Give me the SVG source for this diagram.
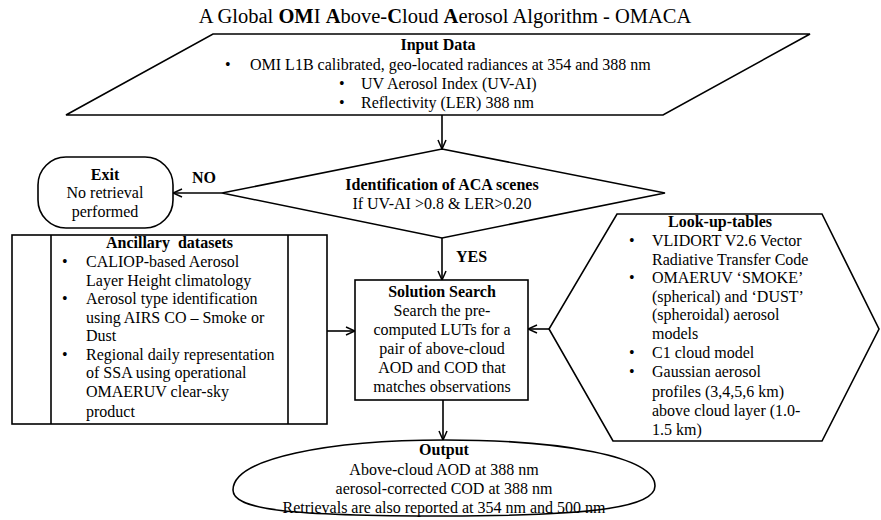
<svg xmlns="http://www.w3.org/2000/svg" width="881" height="520" viewBox="0 0 881 520">
<defs>
<style>
text{font-family:"Liberation Serif","Times New Roman",serif;font-size:16px;fill:#000}
.t{font-size:20.5px}
.b{font-weight:bold}
.c{text-anchor:middle}
.shape{fill:#fff;stroke:#000;stroke-width:1.6}
.conn{fill:none;stroke:#000;stroke-width:1.6;marker-end:url(#arr)}
</style>
<marker id="arr" viewBox="0 0 10 10" refX="10" refY="5" markerWidth="10" markerHeight="10" markerUnits="userSpaceOnUse" orient="auto">
<path d="M1,1 L10,5 L1,9" fill="none" stroke="#000" stroke-width="1.5"/>
</marker>
</defs>
<rect width="881" height="520" fill="#fff"/>
<text class="t c" x="445" y="23">A Global <tspan class="b">OM</tspan>I <tspan class="b">A</tspan>bove-<tspan class="b">C</tspan>loud <tspan class="b">A</tspan>erosol Algorithm - OMACA</text>

<g id="connectors">
<line class="conn" x1="442" y1="115" x2="442" y2="149"/>
<line class="conn" x1="222" y1="193" x2="173" y2="193"/>
<line class="conn" x1="442" y1="238" x2="442" y2="280"/>
<line class="conn" x1="327" y1="331" x2="355" y2="331"/>
<line class="conn" x1="549" y1="329" x2="528" y2="329"/>
<line class="conn" x1="443" y1="400" x2="443" y2="440"/>
<text class="b" x="192" y="183">NO</text>
<text class="b" x="456" y="262">YES</text>
</g>

<g id="input">
<polygon class="shape" points="213,34 810,34 663,115 66,115"/>
<text class="b c" x="438" y="50">Input Data</text>
<text x="225" y="70">•</text><text x="250" y="70">OMI L1B calibrated, geo-located radiances at 354 and 388 nm</text>
<text x="339" y="89">•</text><text x="361" y="89">UV Aerosol Index (UV-AI)</text>
<text x="339" y="108">•</text><text x="361" y="108">Reflectivity (LER) 388 nm</text>
</g>

<g id="decision">
<polygon class="shape" points="442,149 665,193 442,238 222,193"/>
<text class="b c" x="442" y="190">Identification of ACA scenes</text>
<text class="c" x="442" y="209">If UV-AI &gt;0.8 &amp; LER&gt;0.20</text>
</g>

<g id="exit">
<rect class="shape" x="38" y="157" width="135" height="71" rx="28" ry="28"/>
<text class="b c" x="105" y="180">Exit</text>
<text class="c" x="105" y="198">No retrieval</text>
<text class="c" x="105" y="217">performed</text>
</g>

<g id="ancillary">
<rect class="shape" x="12" y="235" width="315" height="189"/>
<line x1="51" y1="235" x2="51" y2="424" stroke="#000" stroke-width="1.6"/>
<line x1="288" y1="235" x2="288" y2="424" stroke="#000" stroke-width="1.6"/>
<text class="b c" x="169.5" y="248" xml:space="preserve">Ancillary  datasets</text>
<text x="62" y="267">•</text><text x="86" y="267">CALIOP-based Aerosol</text>
<text x="86" y="285.5">Layer Height climatology</text>
<text x="62" y="304">•</text><text x="86" y="304">Aerosol type identification</text>
<text x="86" y="322.5">using AIRS CO – Smoke or</text>
<text x="86" y="341">Dust</text>
<text x="62" y="359.5">•</text><text x="86" y="359.5">Regional daily representation</text>
<text x="86" y="378">of SSA using operational</text>
<text x="86" y="397">OMAERUV clear-sky</text>
<text x="86" y="417">product</text>
</g>

<g id="solution">
<rect class="shape" x="355" y="280" width="173" height="120"/>
<text class="b c" x="442" y="297">Solution Search</text>
<text class="c" x="442" y="316">Search the pre-</text>
<text class="c" x="442" y="335">computed LUTs for a</text>
<text class="c" x="442" y="354">pair of above-cloud</text>
<text class="c" x="442" y="373">AOD and COD that</text>
<text class="c" x="442" y="392">matches observations</text>
</g>

<g id="lut">
<polygon class="shape" points="617,214 822,214 879,329 822,441 613,441 549,329"/>
<text class="b c" x="720" y="227">Look-up-tables</text>
<text x="629" y="246">•</text><text x="652" y="246">VLIDORT V2.6 Vector</text>
<text x="652" y="265">Radiative Transfer Code</text>
<text x="629" y="283">•</text><text x="652" y="283">OMAERUV ‘SMOKE’</text>
<text x="652" y="302">(spherical) and ‘DUST’</text>
<text x="652" y="320">(spheroidal) aerosol</text>
<text x="652" y="339">models</text>
<text x="629" y="358">•</text><text x="652" y="358">C1 cloud model</text>
<text x="629" y="377">•</text><text x="652" y="377">Gaussian aerosol</text>
<text x="652" y="397">profiles (3,4,5,6 km)</text>
<text x="652" y="416">above cloud layer (1.0-</text>
<text x="652" y="435">1.5 km)</text>
</g>

<g id="output">
<path class="shape" d="M233,490 C233,458 330,440 445,440 C560,440 655,456 655,486 C655,506 600,516 445,516 C290,516 233,510 233,490 Z"/>
<text class="b c" x="444" y="455">Output</text>
<text class="c" x="444" y="475">Above-cloud AOD at 388 nm</text>
<text class="c" x="444" y="494">aerosol-corrected COD at 388 nm</text>
<text class="c" x="444" y="513">Retrievals are also reported at 354 nm and 500 nm</text>
</g>
</svg>
